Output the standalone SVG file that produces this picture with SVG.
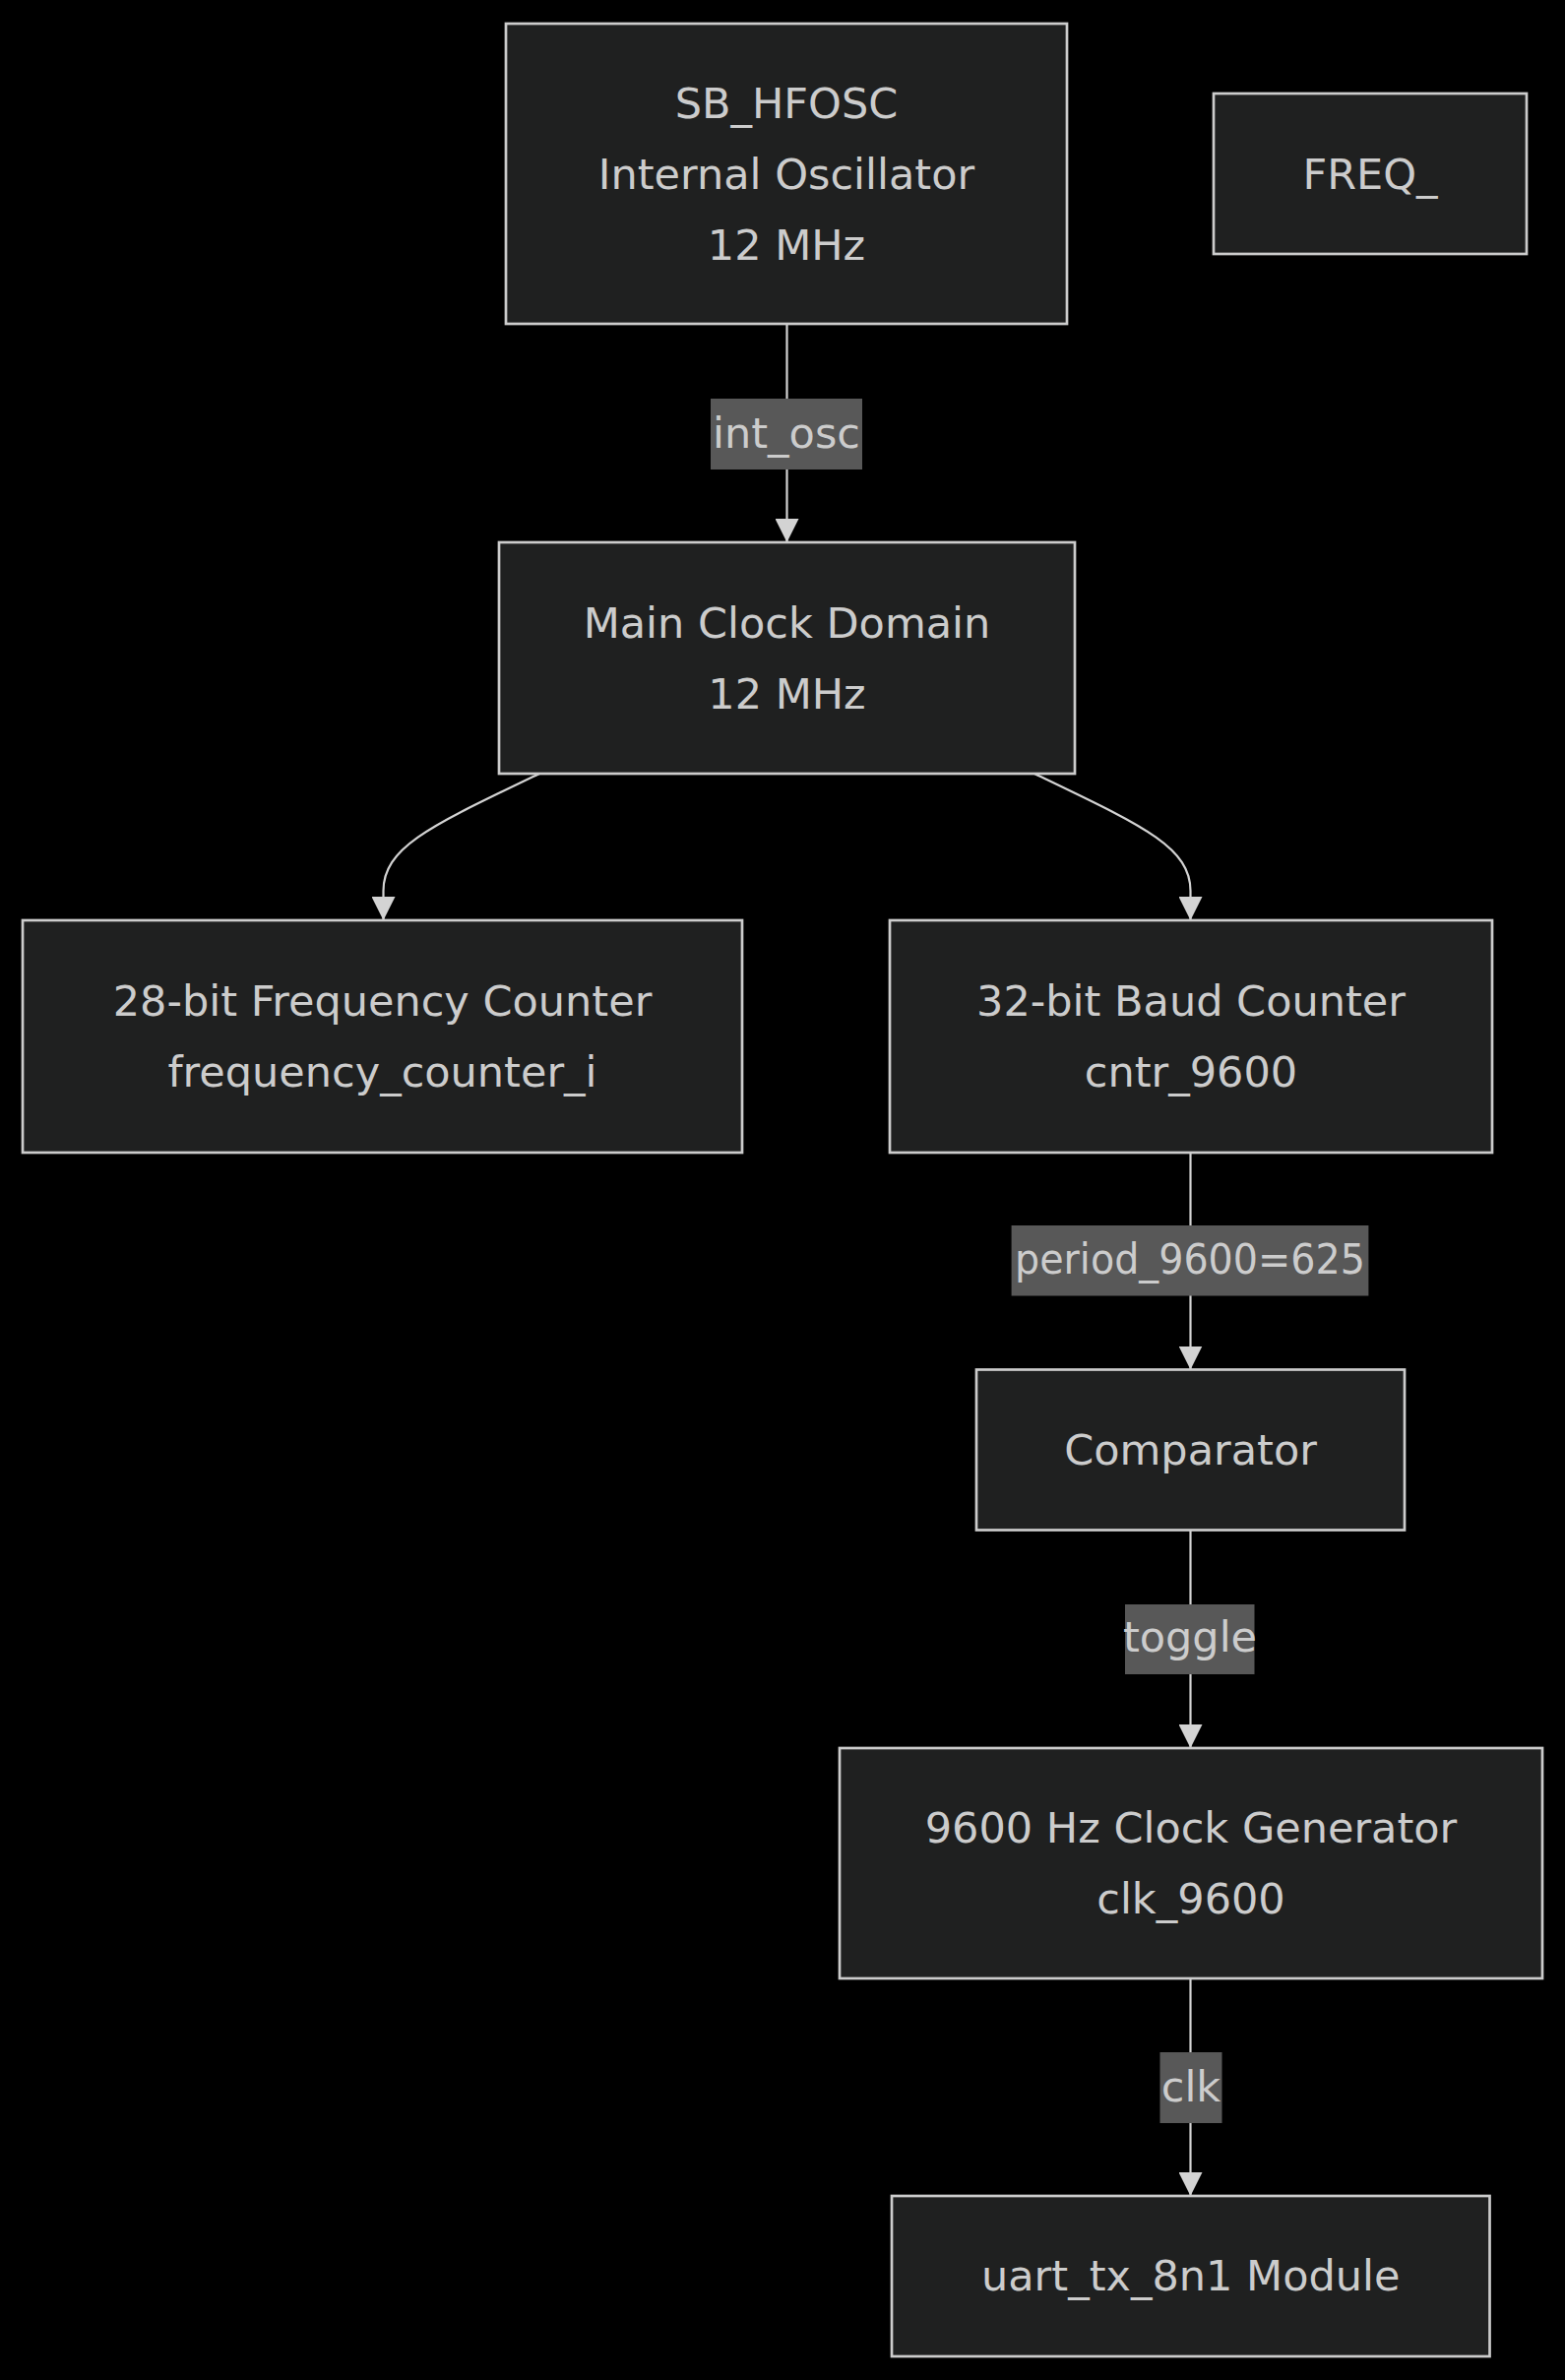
<svg xmlns="http://www.w3.org/2000/svg" width="1590" height="2418" viewBox="0 0 1590 2418">
<style>
.node rect{fill:#1f2020;stroke:#cccccc;stroke-width:2.7}
.node text{fill:#cccccc;font-family:"DejaVu Sans","Liberation Sans",sans-serif;font-size:43px;text-anchor:middle}
.edge{fill:none;stroke:#d3d3d3;stroke-width:2.2}
.lbl rect{fill:#585858}
.lbl text{fill:#cccccc;font-family:"DejaVu Sans","Liberation Sans",sans-serif;font-size:43px;text-anchor:middle}
</style>
<defs>
<marker id="arrow" viewBox="0 0 10 10" refX="10" refY="5" markerUnits="userSpaceOnUse" markerWidth="24" markerHeight="24" orient="auto">
<path d="M0,0 L10,5 L0,10 z" fill="#d3d3d3"/>
</marker>
</defs>
<rect x="0" y="0" width="1590" height="2418" fill="#000000"/>
<g id="connectors">
<path class="edge" d="M799.5,329 L799.5,551" marker-end="url(#arrow)"/>
<path class="edge" d="M548,786 C440,838 389.5,860 389.5,905 L389.5,935" marker-end="url(#arrow)"/>
<path class="edge" d="M1051,786 C1159,838 1209.5,860 1209.5,905 L1209.5,935" marker-end="url(#arrow)"/>
<path class="edge" d="M1209.5,1171 L1209.5,1391.5" marker-end="url(#arrow)"/>
<path class="edge" d="M1209.5,1554.6 L1209.5,1776" marker-end="url(#arrow)"/>
<path class="edge" d="M1209.5,2010 L1209.5,2231" marker-end="url(#arrow)"/>
<g class="lbl" id="lbl-int_osc"><rect x="722" y="405" width="154" height="72"/><text x="799" y="455">int_osc</text></g>
<g class="lbl" id="lbl-period"><rect x="1027.6" y="1245" width="362.8" height="71.5"/><text x="1209" y="1294" textLength="356" lengthAdjust="spacingAndGlyphs">period_9600=625</text></g>
<g class="lbl" id="lbl-toggle"><rect x="1143" y="1630" width="131.5" height="71"/><text x="1209" y="1678">toggle</text></g>
<g class="lbl" id="lbl-clk"><rect x="1178.5" y="2085" width="63" height="72"/><text x="1210" y="2135">clk</text></g>
</g>
<g class="node" id="SB_HFOSC"><rect x="514" y="24" width="570" height="305"/><text x="799" y="120">SB_HFOSC</text><text x="799" y="192">Internal Oscillator</text><text x="799" y="264">12 MHz</text></g>
<g class="node" id="FREQ_"><rect x="1233" y="95" width="318" height="163"/><text x="1392" y="192">FREQ_</text></g>
<g class="node" id="main_clk"><rect x="507" y="551" width="585" height="235"/><text x="799.5" y="648">Main Clock Domain</text><text x="799.5" y="720">12 MHz</text></g>
<g class="node" id="freq_counter"><rect x="23" y="935" width="731" height="236"/><text x="388.5" y="1032">28-bit Frequency Counter</text><text x="388.5" y="1104">frequency_counter_i</text></g>
<g class="node" id="baud_counter"><rect x="904" y="935" width="612" height="236"/><text x="1210" y="1032">32-bit Baud Counter</text><text x="1210" y="1104">cntr_9600</text></g>
<g class="node" id="comparator"><rect x="992" y="1391.5" width="435" height="163"/><text x="1209.5" y="1488">Comparator</text></g>
<g class="node" id="clk_gen"><rect x="853" y="1776" width="714" height="234"/><text x="1210" y="1872">9600 Hz Clock Generator</text><text x="1210" y="1944">clk_9600</text></g>
<g class="node" id="uart_tx"><rect x="906" y="2231" width="607.5" height="163"/><text x="1209.75" y="2327">uart_tx_8n1 Module</text></g>
</svg>
